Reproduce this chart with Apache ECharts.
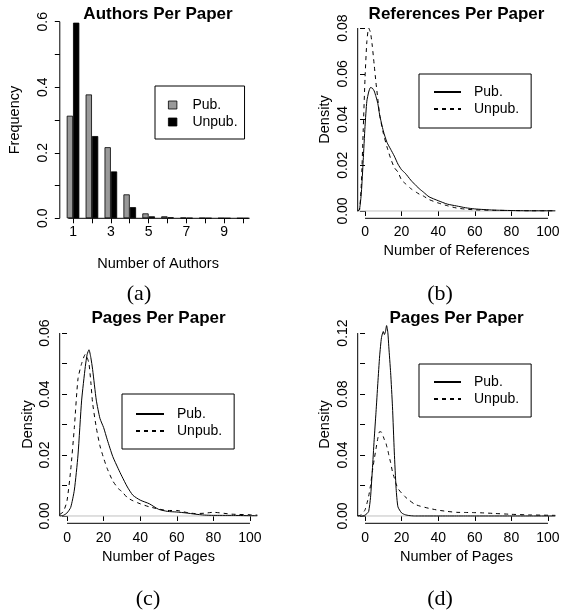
<!DOCTYPE html>
<html><head><meta charset="utf-8">
<script src="https://cdn.jsdelivr.net/npm/echarts@6/dist/echarts.min.js"></script>
<style>html,body{margin:0;padding:0;background:#fff}#c{width:561px;height:614px}</style>
</head><body><div id="c"></div><script>
// ---------- data ----------
const authorCats = [1,2,3,4,5,6,7,8,9,10];
const authorsPub = [0.313,0.378,0.217,0.073,0.015,0.006,0.002,0.001,0.0005,0.0003];
const authorsUnpub = [0.597,0.251,0.143,0.034,0.006,0.003,0.001,0.0005,0.0002,0.0001];
const authorTicks = [1,2,3,4,5,6,7,8,9,10];
const authorTickLabels = [1,3,5,7,9];
const freqTicks = [0,0.1,0.2,0.3,0.4,0.5,0.6];
const freqTickLabels = [0,0.2,0.4,0.6];

const refX = [-4,-3,-2,-1,0,1,2,3,4,5,6,7,8,10,12,14,16,18,20,22,25,28,30,32,35,40,45,50,55,60,70,80,90,100,104];
const refPub = [0,0.0008,0.008,0.022,0.037,0.048,0.052,0.054,0.0537,0.0525,0.050,0.047,0.042,0.035,0.030,0.027,0.024,0.0205,0.018,0.0165,0.0135,0.011,0.0095,0.0082,0.0062,0.0045,0.003,0.0022,0.0014,0.0009,0.0004,0.0002,0.0001,0.0001,0.0001];
const refUnpub = [0,0.0005,0.012,0.035,0.058,0.074,0.080,0.078,0.072,0.064,0.056,0.049,0.042,0.034,0.028,0.023,0.019,0.017,0.0135,0.012,0.0098,0.0082,0.0072,0.0065,0.005,0.0035,0.0023,0.0013,0.0008,0.0005,0.0003,0.0002,0.0001,0.0001,0.0001];
const refTicks = [0,0.02,0.04,0.06,0.08];

const pagesX = [-4,-2,0,2,4,6,8,10,11,12,13,14,16,18,20,22,25,28,30,33,36,40,45,50,55,60,65,70,75,80,90,100,104];
const pagesPubC = [0,0.0002,0.001,0.0028,0.0085,0.02,0.038,0.049,0.053,0.0545,0.052,0.048,0.038,0.032,0.029,0.025,0.0195,0.0155,0.013,0.0095,0.0068,0.0052,0.004,0.0022,0.0015,0.0013,0.001,0.0006,0.0003,0.0002,0.0002,0.0001,0.0001];
const pagesUnpubC = [0.0005,0.0014,0.005,0.015,0.029,0.045,0.050,0.053,0.052,0.050,0.044,0.037,0.029,0.023,0.019,0.0155,0.0115,0.009,0.008,0.006,0.005,0.004,0.003,0.0023,0.0018,0.0018,0.0012,0.0008,0.0009,0.0012,0.0006,0.0004,0.0003];
const pagesTicksC = [0,0.01,0.02,0.03,0.04,0.05,0.06];
const pagesLabelsC = [0,0.02,0.04,0.06];

const pagesXD = [-4,-2,0,1,2,3,4,5,6,7,8,9,10,10.6,11.2,11.8,12.5,13,14,15,16,17,18,20,22,24,27,30,35,40,45,50,55,60,65,70,80,90,100,104];
const pagesPubD = [0,0,0.0005,0.0015,0.003,0.012,0.03,0.05,0.068,0.087,0.105,0.117,0.121,0.119,0.121,0.125,0.12,0.111,0.094,0.072,0.042,0.018,0.006,0.002,0.0008,0.0003,0,0,0,0,0,0,0,0,0,0,0,0,0,0];
const pagesUnpubD = [0,0.0008,0.004,0.008,0.013,0.02,0.029,0.037,0.044,0.051,0.0553,0.055,0.052,0.05,0.049,0.046,0.043,0.040,0.035,0.029,0.025,0.021,0.018,0.015,0.0125,0.0105,0.0078,0.0065,0.005,0.0038,0.003,0.0024,0.0023,0.0022,0.002,0.0017,0.0011,0.0007,0.0005,0.0004];
const pagesTicksD = [0,0.02,0.04,0.06,0.08,0.10,0.12];
const pagesLabelsD = [0,0.04,0.08,0.12];

const xTicks100 = [0,20,40,60,80,100];

// ---------- layout ----------
const FONT = 'Liberation Sans';
const grids = [
  {left:59.8, top:21.7, width:196.6, height:196.6},
  {left:357.7, top:20.7, width:197.6, height:197.6},
  {left:59.7, top:325.7, width:197.6, height:197.6},
  {left:357.7, top:325.7, width:197.6, height:197.6}
];
const panels = [
  {xmin:0.3, xmax:10.7, ymin:0, ymax:0.6, xt:authorTicks, xl:authorTickLabels, yt:freqTicks, yl:freqTickLabels, yd:1,
   xname:'Number of Authors', yname:'Frequency', xgap:38, ygap:37, xm:7, ym:9.5, xline:[0.75,10.28], yline:[0,0.6]},
  {xmin:-4, xmax:104, ymin:-0.0032, ymax:0.0832, xt:xTicks100, xl:xTicks100, yt:refTicks, yl:refTicks, yd:2,
   xname:'Number of References', yname:'Density', xgap:25, ygap:25, xm:6.5, ym:7.5, xline:[0,100], yline:[0,0.08]},
  {xmin:-4, xmax:104, ymin:-0.0024, ymax:0.0624, xt:xTicks100, xl:xTicks100, yt:pagesTicksC, yl:pagesLabelsC, yd:2,
   xname:'Number of Pages', yname:'Density', xgap:26.5, ygap:24, xm:8, ym:7.5, xline:[0,100], yline:[0,0.06]},
  {xmin:-4, xmax:104, ymin:-0.0048, ymax:0.1248, xt:xTicks100, xl:xTicks100, yt:pagesTicksD, yl:pagesLabelsD, yd:2,
   xname:'Number of Pages', yname:'Density', xgap:26.5, ygap:25, xm:8, ym:7.5, xline:[0,100], yline:[0,0.12]}
];

const xAxis = panels.map((p,i)=>({
  type:'value', gridIndex:i, min:p.xmin, max:p.xmax,
  axisLine:{show:false}, splitLine:{show:false},
  axisTick:{show:true, customValues:p.xt, length:5, lineStyle:{color:'#000',width:1}},
  axisLabel:{show:true, customValues:p.xl, margin:p.xm, color:'#000', fontFamily:FONT, fontSize:14},
  name:p.xname, nameLocation:'middle', nameGap:p.xgap,
  nameTextStyle:{color:'#000', fontFamily:FONT, fontSize:14.5}
}));
const yAxis = panels.map((p,i)=>({
  type:'value', gridIndex:i, min:p.ymin, max:p.ymax,
  axisLine:{show:false}, splitLine:{show:false},
  axisTick:{show:true, customValues:p.yt, length:5, lineStyle:{color:'#000',width:1}},
  axisLabel:{show:true, customValues:p.yl, rotate:90, margin:p.ym, color:'#000', fontFamily:FONT, fontSize:14,
    formatter:(v)=>Number(v).toFixed(p.yd)},
  name:p.yname, nameLocation:'middle', nameGap:p.ygap,
  nameTextStyle:{color:'#000', fontFamily:FONT, fontSize:14.5}
}));

const series = [];
// axis lines drawn through the scales
panels.forEach((p,i)=>{
  series.push({type:'line', xAxisIndex:i, yAxisIndex:i, silent:true, symbol:'none', clip:false, z:5,
    data:[[p.xline[0],p.ymin],[p.xline[1],p.ymin]], lineStyle:{color:'#000',width:1}});
  series.push({type:'line', xAxisIndex:i, yAxisIndex:i, silent:true, symbol:'none', clip:false, z:5,
    data:[[p.xmin,p.yline[0]],[p.xmin,p.yline[1]]], lineStyle:{color:'#000',width:1}});
  if (i>0) series.push({type:'line', xAxisIndex:i, yAxisIndex:i, silent:true, symbol:'none', z:1,
    data:[[p.xmin,0],[p.xmax,0]], lineStyle:{color:'#c0c0c0',width:1}});
});
const zip = (xs,ys)=>xs.map((x,k)=>[x,ys[k]]);
series.push({name:'Pub.#a', type:'bar', xAxisIndex:0, yAxisIndex:0, barWidth:6.3, barGap:'0%',
  data:zip(authorCats,authorsPub), itemStyle:{color:'#999999', borderColor:'#000', borderWidth:0.8}});
series.push({name:'Unpub.#a', type:'bar', xAxisIndex:0, yAxisIndex:0, barWidth:6.3, barGap:'0%',
  data:zip(authorCats,authorsUnpub), itemStyle:{color:'#000', borderColor:'#000', borderWidth:0.8}});
const lineS = (name,i,xs,ys,dash)=>({name, type:'line', xAxisIndex:i, yAxisIndex:i, symbol:'none', smooth:0.2, z:3,
  data:zip(xs,ys), lineStyle:{color:'#000', width:1, type: dash?[4,4]:'solid'}, itemStyle:{color:'#000'}});
series.push(lineS('Pub.#b',1,refX,refPub,false));
series.push(lineS('Unpub.#b',1,refX,refUnpub,true));
series.push(lineS('Pub.#c',2,pagesX,pagesPubC,false));
series.push(lineS('Unpub.#c',2,pagesX,pagesUnpubC,true));
series.push(lineS('Pub.#d',3,pagesXD,pagesPubD,false));
series.push(lineS('Unpub.#d',3,pagesXD,pagesUnpubD,true));

const legBase = {orient:'vertical', selectedMode:false, borderColor:'#000', borderWidth:1, borderRadius:0,
  formatter:(n)=>n.split('#')[0], textStyle:{color:'#000', fontFamily:FONT, fontSize:14, padding:[0,0,0,8]}};
const lineLeg = {itemStyle:{opacity:0, color:'transparent', borderColor:'transparent', borderWidth:0}};
const legend = [
  Object.assign({}, legBase, {left:155, top:86, padding:[12,7,10,13], itemWidth:8.5, itemHeight:8, itemGap:3,
    textStyle:Object.assign({}, legBase.textStyle, {padding:[0,0,0,10.5]}),
    data:[{name:'Pub.#a', icon:'rect', itemStyle:{color:'#999999', borderColor:'#000', borderWidth:0.8}},
          {name:'Unpub.#a', icon:'rect', itemStyle:{color:'#000', borderColor:'#000', borderWidth:0.8}}]}),
  Object.assign({}, legBase, lineLeg, {left:419, top:74, padding:[11,12,12,14], itemWidth:27, itemHeight:14, itemGap:3,
    data:['Pub.#b','Unpub.#b']}),
  Object.assign({}, legBase, lineLeg, {left:122, top:394, padding:[13,12,11,13], itemWidth:28, itemHeight:14, itemGap:3,
    data:['Pub.#c','Unpub.#c']}),
  Object.assign({}, legBase, lineLeg, {left:419, top:364, padding:[11,12,11,14], itemWidth:27, itemHeight:14, itemGap:3,
    data:['Pub.#d','Unpub.#d']})
];

const mkTitle = (text,x,y,size,bold,family)=>({text, left:x, top:y, textAlign:'center', padding:0,
  textStyle:{color:'#000', fontSize:size, fontWeight:bold?'bold':'normal', fontFamily:family}});
const title = [
  mkTitle('Authors Per Paper',158,5.5,17,true,FONT),
  mkTitle('References Per Paper',456.5,5.5,17,true,FONT),
  mkTitle('Pages Per Paper',158.5,309.5,17,true,FONT),
  mkTitle('Pages Per Paper',456.5,309.5,17,true,FONT),
  mkTitle('(a)',139,283,22,false,'Liberation Serif'),
  mkTitle('(b)',440,283,22,false,'Liberation Serif'),
  mkTitle('(c)',148,588,22,false,'Liberation Serif'),
  mkTitle('(d)',440,588,22,false,'Liberation Serif')
];

const chart = echarts.init(document.getElementById('c'), null, {renderer:'canvas'});
chart.setOption({
  animation:false, backgroundColor:'#fff',
  grid: grids.map(g=>Object.assign({outerBoundsMode:'none', containLabel:false}, g)),
  xAxis, yAxis, series, legend, title
});
</script></body></html>
